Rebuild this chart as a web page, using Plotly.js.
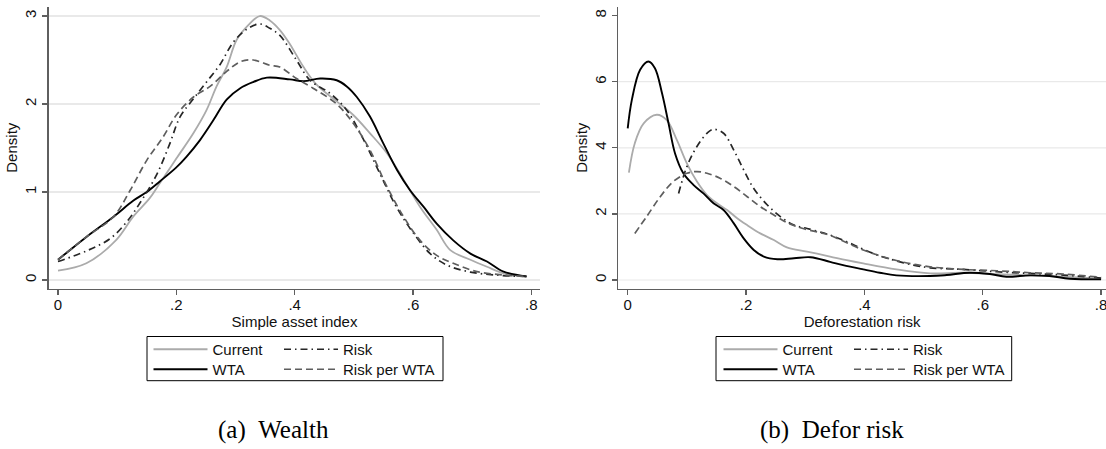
<!DOCTYPE html>
<html>
<head>
<meta charset="utf-8">
<script src="https://cdn.plot.ly/plotly-3.0.1.min.js"></script>
<style>
  html, body { margin: 0; padding: 0; background: #ffffff; }
  #chart { width: 1106px; height: 449px; }
</style>
</head>
<body>
<div id="chart"></div>
<script>
// Kernel density estimates, panel (a): simple asset index
const wealthCurrentX = [0, .048, .099, .127, .155, .172, .2, .229, .251, .268, .285, .302, .322, .341, .358, .375, .392, .415, .437, .471, .499, .527, .556, .584, .612, .64, .663, .697, .725, .753, .792];
const wealthCurrentY = [.106, .19, .46, .72, .93, 1.1, 1.38, 1.67, 1.93, 2.2, 2.42, 2.73, 2.9, 3.0, 2.95, 2.84, 2.68, 2.42, 2.22, 2.03, 1.875, 1.67, 1.44, 1.14, .83, .57, .34, .23, .15, .076, .04];

const wealthWtaX = [0, .048, .094, .127, .15, .172, .2, .217, .24, .263, .285, .308, .33, .353, .392, .415, .443, .471, .488, .505, .527, .55, .573, .595, .618, .64, .668, .697, .725, .753, .792];
const wealthWtaY = [.23, .49, .72, .90, 1.0, 1.12, 1.28, 1.40, 1.59, 1.82, 2.05, 2.18, 2.25, 2.30, 2.28, 2.26, 2.29, 2.27, 2.2, 2.08, 1.86, 1.55, 1.25, 1.02, .83, .64, .45, .30, .21, .095, .04];

const wealthRiskX = [0, .048, .088, .116, .139, .167, .189, .206, .229, .251, .274, .296, .319, .341, .358, .375, .403, .426, .46, .488, .516, .544, .572, .601, .629, .657, .697, .742, .792];
const wealthRiskY = [.21, .33, .47, .66, .88, 1.2, 1.55, 1.85, 2.06, 2.25, 2.45, 2.7, 2.85, 2.91, 2.86, 2.78, 2.5, 2.27, 2.12, 1.93, 1.6, 1.21, .83, .53, .30, .17, .09, .055, .04];

const wealthRpwX = [0, .048, .094, .122, .15, .178, .2, .229, .257, .285, .308, .33, .358, .375, .403, .431, .471, .499, .527, .556, .584, .612, .64, .668, .708, .753, .792];
const wealthRpwY = [.23, .49, .72, 1.02, 1.36, 1.63, 1.875, 2.08, 2.2, 2.37, 2.48, 2.5, 2.44, 2.42, 2.29, 2.18, 2.0, 1.78, 1.48, 1.06, .72, .45, .28, .19, .095, .057, .04];

// Kernel density estimates, panel (b): deforestation risk
const deforCurrentX = [.002, .012, .027, .049, .066, .083, .1, .117, .134, .151, .168, .185, .202, .224, .247, .269, .303, .342, .37, .398, .454, .511, .567, .624, .68, .736, .8];
const deforCurrentY = [3.25, 4.14, 4.74, 5.0, 4.84, 4.24, 3.53, 2.98, 2.57, 2.32, 2.12, 1.87, 1.66, 1.41, 1.21, .99, .86, .71, .6, .5, .32, .2, .22, .18, .14, .1, .04];

const deforWtaX = [0, .007, .021, .035, .046, .058, .069, .08, .094, .111, .128, .145, .162, .179, .196, .213, .23, .253, .281, .309, .342, .364, .398, .426, .454, .511, .539, .578, .612, .64, .68, .713, .747, .8];
const deforWtaY = [4.59, 5.45, 6.36, 6.61, 6.41, 5.65, 4.74, 3.83, 3.23, 2.88, 2.62, 2.32, 2.12, 1.72, 1.26, .91, .71, .63, .66, .69, .55, .45, .32, .22, .14, .12, .15, .22, .18, .10, .14, .12, .04, .02];

const deforRiskX = [.086, .1, .117, .134, .145, .162, .179, .196, .213, .236, .258, .281, .303, .342, .37, .398, .426, .454, .483, .511, .567, .624, .68, .736, .8];
const deforRiskY = [2.62, 3.43, 4.04, 4.44, 4.56, 4.44, 3.94, 3.33, 2.77, 2.27, 1.92, 1.66, 1.56, 1.36, 1.16, .93, .73, .58, .45, .37, .32, .25, .2, .15, .06];

const deforRpwX = [.012, .032, .055, .077, .1, .117, .134, .156, .179, .202, .224, .247, .269, .292, .326, .342, .398, .454, .511, .567, .624, .68, .736, .8];
const deforRpwY = [1.41, 1.92, 2.52, 2.98, 3.23, 3.28, 3.23, 3.08, 2.83, 2.52, 2.22, 1.97, 1.74, 1.58, 1.43, 1.35, .91, .59, .4, .32, .28, .22, .18, .08];

// Axis ticks and labels
const xTickVals = [0, .2, .4, .6, .8];
const xTickText = ['0', '.2', '.4', '.6', '.8'];
const wealthYTicks = [0, 1, 2, 3];
const deforYTicks = [0, 2, 4, 6, 8];
const deforGridVals = [0, 2, 4, 6];

const seriesNames = ['Current', 'WTA', 'Risk', 'Risk per WTA'];
const panelTitles = ['Simple asset index', 'Deforestation risk'];
const captions = ['(a)\u00a0\u00a0Wealth', '(b)\u00a0\u00a0Defor risk'];

// ---- page geometry (pixels) ----
const W = 1106, H = 449;
const px = v => v / W;
const py = v => 1 - v / H;

const styles = {
  'Current':      { color: '#ababab', width: 1.8, dash: 'solid' },
  'WTA':          { color: '#000000', width: 1.9, dash: 'solid' },
  'Risk':         { color: '#262626', width: 1.7, dash: '7px,4px,1.5px,4px' },
  'Risk per WTA': { color: '#5e5e5e', width: 1.7, dash: '7px,4px' }
};

function curve(x, y, name, xa, ya, legend) {
  const s = styles[name];
  return {
    type: 'scatter', mode: 'lines', x: x, y: y, name: name,
    xaxis: xa, yaxis: ya, legend: legend,
    line: { color: s.color, width: s.width, dash: s.dash, shape: 'spline', smoothing: 1 },
    hoverinfo: 'skip'
  };
}

// one legend per key entry, laid out in a 2x2 grid inside each frame
const data = [
  curve(wealthCurrentX, wealthCurrentY, seriesNames[0], 'x', 'y', 'legend'),
  curve(wealthWtaX, wealthWtaY, seriesNames[1], 'x', 'y', 'legend2'),
  curve(wealthRiskX, wealthRiskY, seriesNames[2], 'x', 'y', 'legend3'),
  curve(wealthRpwX, wealthRpwY, seriesNames[3], 'x', 'y', 'legend4'),
  curve(deforCurrentX, deforCurrentY, seriesNames[0], 'x2', 'y2', 'legend5'),
  curve(deforWtaX, deforWtaY, seriesNames[1], 'x2', 'y2', 'legend6'),
  curve(deforRiskX, deforRiskY, seriesNames[2], 'x2', 'y2', 'legend7'),
  curve(deforRpwX, deforRpwY, seriesNames[3], 'x2', 'y2', 'legend8')
];

const sans = 'Liberation Sans, Arial, sans-serif';
const serif = 'Liberation Serif, Times New Roman, serif';
const axisLine = '#5f5f5f';
const FS = 15;

function xAxis(domain, range, title, anchor) {
  return {
    domain: domain, range: range, anchor: anchor,
    tickmode: 'array', tickvals: xTickVals, ticktext: xTickText,
    ticks: 'outside', ticklen: 5, tickwidth: 1.2, tickcolor: axisLine,
    ticklabeloverflow: 'allow', ticklabelstandoff: -3,
    showline: true, linecolor: axisLine, linewidth: 1.6,
    showgrid: false, zeroline: false,
    tickfont: { family: sans, size: FS, color: '#111' },
    title: { text: title, font: { family: sans, size: FS, color: '#111' }, standoff: 0 },
    fixedrange: true
  };
}

function yAxis(domain, range, ticks, grid, anchor, standoff) {
  return {
    domain: domain, range: range, anchor: anchor,
    tickmode: 'array', tickvals: ticks, ticktext: ticks.map(String),
    tickangle: -90,
    ticks: 'outside', ticklen: 5, tickwidth: 1.2, tickcolor: axisLine,
    ticklabeloverflow: 'allow',
    showline: true, linecolor: axisLine, linewidth: 1.6,
    showgrid: grid, gridcolor: '#e9e9e9', gridwidth: 1.2, zeroline: false,
    tickfont: { family: sans, size: FS, color: '#111' },
    title: { text: 'Density', font: { family: sans, size: FS, color: '#111' }, standoff: standoff },
    fixedrange: true
  };
}

function legendAt(xPix, yPix) {
  return {
    x: px(xPix), y: py(yPix), xanchor: 'left', yanchor: 'top',
    orientation: 'v', bgcolor: 'rgba(0,0,0,0)', borderwidth: 0,
    itemwidth: 54, font: { family: sans, size: FS, color: '#111' },
    itemclick: false, itemdoubleclick: false
  };
}

const row1 = 333, row2 = 353;
const yDomain = [py(288.7), py(6.7)];

const layout = {
  width: W, height: H,
  margin: { l: 0, r: 0, t: 0, b: 0, pad: 0 },
  paper_bgcolor: '#ffffff', plot_bgcolor: '#ffffff',
  showlegend: true,
  xaxis: xAxis([px(49), px(540)], [-0.0152, 0.8146], panelTitles[0], 'y'),
  yaxis: yAxis(yDomain, [-0.099, 3.106], wealthYTicks, true, 'x', 1),
  xaxis2: xAxis([px(618.3), 1], [-0.0159, 0.8083], panelTitles[1], 'y2'),
  yaxis2: yAxis(yDomain, [-0.263, 8.27], deforYTicks, false, 'x2', 0),
  legend:  legendAt(148.5, row1),
  legend2: legendAt(148.5, row2),
  legend3: legendAt(279, row1),
  legend4: legendAt(279, row2),
  legend5: legendAt(718.5, row1),
  legend6: legendAt(718.5, row2),
  legend7: legendAt(849, row1),
  legend8: legendAt(849, row2),
  shapes: [
    // legend frames
    { type: 'rect', xref: 'paper', yref: 'paper', x0: px(147), x1: px(443), y0: py(380.7), y1: py(336.5),
      line: { color: '#000', width: 1 }, fillcolor: 'rgba(0,0,0,0)' },
    { type: 'rect', xref: 'paper', yref: 'paper', x0: px(716), x1: px(1011.7), y0: py(380.7), y1: py(336.5),
      line: { color: '#000', width: 1 }, fillcolor: 'rgba(0,0,0,0)' }
  ].concat(deforGridVals.map(v => ({
    type: 'line', xref: 'x2 domain', yref: 'y2', x0: 0, x1: 1, y0: v, y1: v,
    layer: 'below', line: { color: '#e9e9e9', width: 1.2 }
  }))),
  annotations: captions.map((t, i) => ({
    text: t, xref: 'paper', yref: 'paper',
    x: px(i === 0 ? 273 : 832), y: py(430), xanchor: 'center', yanchor: 'middle',
    showarrow: false, font: { family: serif, size: 25, color: '#000' }
  }))
};

Plotly.newPlot('chart', data, layout, { staticPlot: true, displayModeBar: false });
</script>
</body>
</html>
